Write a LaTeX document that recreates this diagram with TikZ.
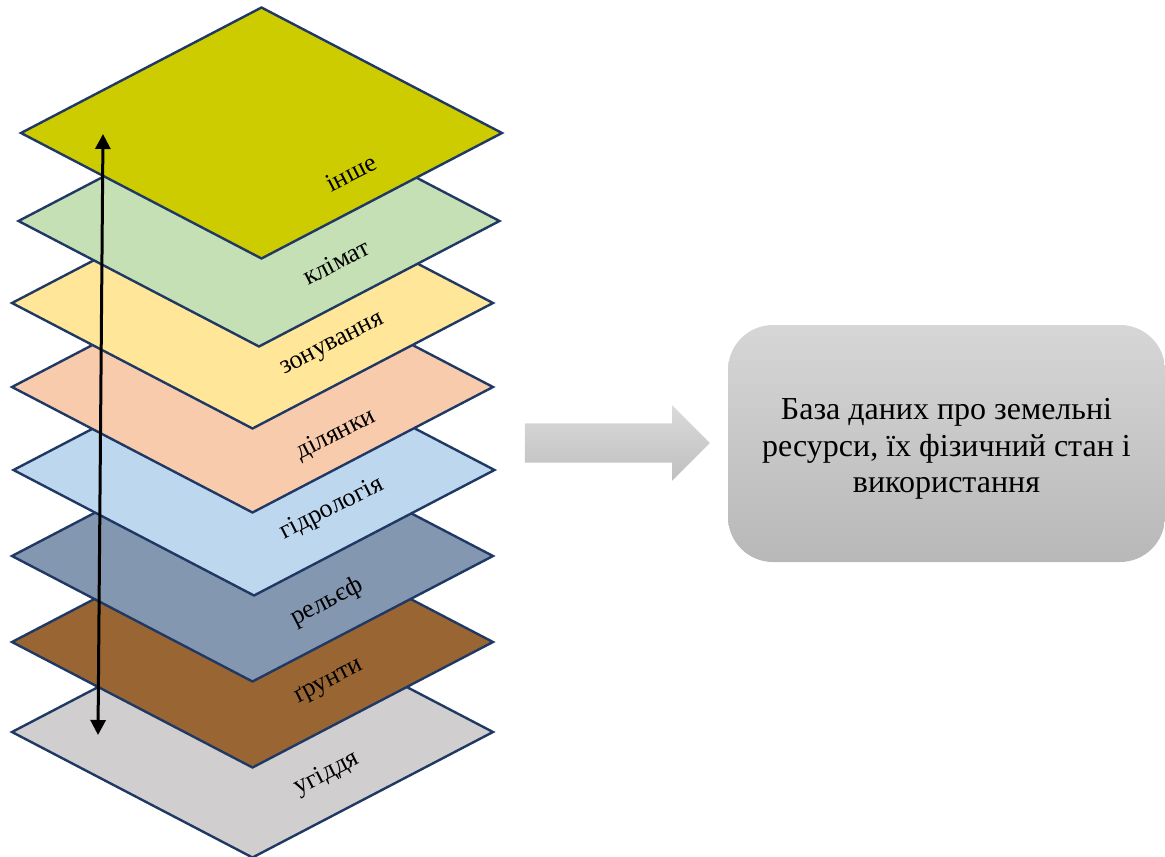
\documentclass[tikz,border=0pt]{standalone}
\usepackage{fontspec}
\setmainfont{Liberation Serif}
\usetikzlibrary{shapes.geometric,shapes.arrows,arrows.meta}
\definecolor{edgeblue}{HTML}{1F3864}
\definecolor{cinshe}{HTML}{CCCC00}
\definecolor{cklimat}{HTML}{C5E0B4}
\definecolor{czon}{HTML}{FFE699}
\definecolor{cdil}{HTML}{F8CBAD}
\definecolor{chydro}{HTML}{BDD7EE}
\definecolor{crel}{HTML}{8497B0}
\definecolor{cgrunt}{HTML}{996633}
\definecolor{cugid}{HTML}{D0CECE}
\definecolor{boxtop}{HTML}{D6D6D6}
\definecolor{boxbot}{HTML}{B8B8B8}
\begin{document}
\begin{tikzpicture}[x=1pt,y=-1pt,
  layer/.style={diamond, draw=edgeblue, line width=2.4pt, minimum width=481pt,
    minimum height=251pt, inner sep=0pt, outer sep=0pt},
  lbl/.style={font=\fontsize{26}{30}\selectfont, rotate=27, inner sep=0pt},
  dbbox/.style={rounded corners=45pt, minimum width=437pt, minimum height=237pt,
    top color=boxtop, bottom color=boxbot, inner sep=0pt},
  dbtext/.style={align=center, inner sep=0pt, font=\fontsize{32}{36.5}\selectfont},
  flowarrow/.style={single arrow, single arrow head extend=18pt, minimum height=185pt,
    inner xsep=0pt, inner ysep=19.5pt, top color=boxtop!90!white, bottom color=boxbot!90!white,
    draw=none},
  vert/.style={{Triangle[length=15pt,width=15pt]}-{Triangle[length=15pt,width=15pt]}, line width=3pt}]
\useasboundingbox (0,0) rectangle (1165,857);

\node[layer, fill=cugid]  (l8) at (252.5,732) {};
\node[lbl] (t8) at (327,774) {угіддя};
\node[layer, fill=cgrunt] (l7) at (252.5,642) {};
\node[lbl] (t7) at (329,682) {ґрунти};
\node[layer, fill=crel]   (l6) at (252.5,556) {};
\node[lbl] (t6) at (327,602) {рельєф};
\node[layer, fill=chydro] (l5) at (254,470) {};
\node[lbl] (t5) at (332,509) {гідрологія};
\node[layer, fill=cdil]   (l4) at (252.5,387) {};
\node[lbl] (t4) at (336,435) {ділянки};
\node[layer, fill=czon]   (l3) at (252.5,303) {};
\node[lbl] (t3) at (333,346) {зонування};
\node[layer, fill=cklimat] (l2) at (259,221) {};
\node[lbl] (t2) at (336,262) {клімат};
\node[layer, fill=cinshe] (l1) at (261.5,133) {};
\node[lbl] (t1) at (351,173) {інше};

\coordinate (atop) at (103,134);
\coordinate (abot) at (98,735);
\draw[vert] (atop) -- (abot);

\node[flowarrow] (flow) at (607.5,443) {};
\node[dbbox] (db) at (946.5,443.5) {};
\node[dbtext] (dbt) at (946.5,449) {База даних про земельні\\ресурси, їх фізичний стан і\\використання};
\end{tikzpicture}
\end{document}
